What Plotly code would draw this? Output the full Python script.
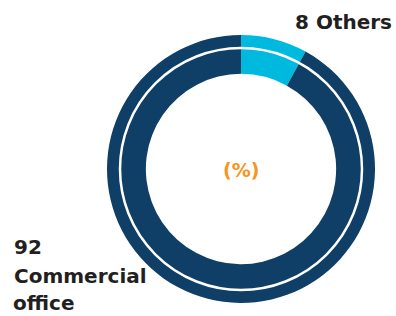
import plotly.graph_objects as go

labels = ["Others", "Commercial office"]
values = [8, 92]
colors = ["#00b9de", "#0f3e66"]

W, H = 396, 316
cx, cy, r_out = 241, 169, 134
r_line = 121

fig = go.Figure(go.Pie(
    labels=labels, values=values, sort=False, direction="clockwise",
    rotation=0, hole=0.71, textinfo="none", hoverinfo="label+value",
    marker=dict(colors=colors, line=dict(width=0)),
    domain=dict(x=[(cx - r_out) / W, (cx + r_out) / W],
                y=[1 - (cy + r_out) / H, 1 - (cy - r_out) / H]),
    showlegend=False,
))

fig.add_shape(type="circle", xref="paper", yref="paper",
              x0=(cx - r_line) / W, x1=(cx + r_line) / W,
              y0=1 - (cy + r_line) / H, y1=1 - (cy - r_line) / H,
              line=dict(color="white", width=2.5))

font = dict(family="DejaVu Sans", size=20, color="#231f20", weight="bold")
fig.add_annotation(text=f"{values[0]} {labels[0]}", xref="paper", yref="paper",
                   x=394 / W, y=1 - 22 / H, xanchor="right", yanchor="middle",
                   showarrow=False, font=font)
left_lines = [str(values[1]), "Commercial", "office"]
for txt, ypx in zip(left_lines, [247, 276, None]):
    if ypx is None:
        fig.add_annotation(text=txt, xref="paper", yref="paper",
                           x=12 / W, y=0, xanchor="left", yanchor="bottom",
                           align="left", showarrow=False, font=font, borderpad=0)
    else:
        fig.add_annotation(text=txt, xref="paper", yref="paper",
                           x=12 / W, y=1 - ypx / H, xanchor="left", yanchor="middle",
                           align="left", showarrow=False, font=font)
fig.add_annotation(text="(%)", xref="paper", yref="paper",
                   x=cx / W, y=1 - 170 / H, xanchor="center", yanchor="middle",
                   showarrow=False,
                   font=dict(family="DejaVu Sans", size=19, color="#f7941d", weight="bold"))

fig.update_layout(width=W, height=H, margin=dict(l=0, r=0, t=0, b=0),
                  paper_bgcolor="white", plot_bgcolor="white")
fig.write_html("out.html", config={"displayModeBar": False},
               post_script="document.body.style.margin='0';document.body.style.overflow='hidden';")
